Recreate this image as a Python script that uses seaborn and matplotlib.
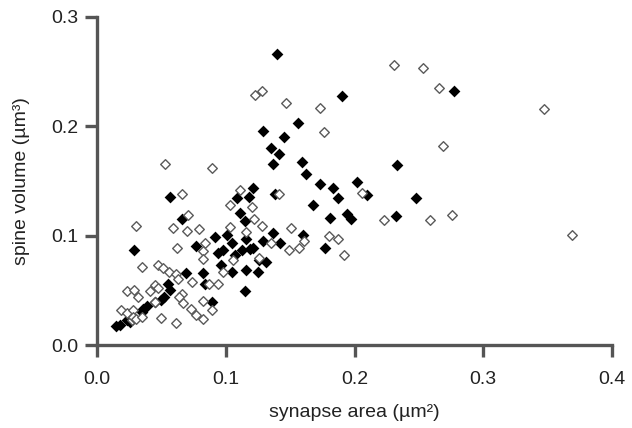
import matplotlib
matplotlib.use("Agg")
import matplotlib.pyplot as plt
import seaborn as sns
import pandas as pd

# filled diamonds
filled_x = [0.140, 0.190, 0.277, 0.156, 0.129, 0.145, 0.135, 0.141, 0.137, 0.159,
            0.162, 0.233, 0.173, 0.183, 0.187, 0.168, 0.181, 0.194, 0.197, 0.202,
            0.210, 0.248, 0.232, 0.177, 0.160, 0.121, 0.138, 0.109, 0.118, 0.111,
            0.115, 0.066, 0.057, 0.029, 0.077, 0.092, 0.101, 0.105, 0.116, 0.129,
            0.137, 0.142, 0.121, 0.094, 0.098, 0.113, 0.119, 0.126, 0.131, 0.096,
            0.107, 0.105, 0.116, 0.125, 0.069, 0.082, 0.084, 0.115, 0.089, 0.055,
            0.057, 0.050, 0.052, 0.045, 0.039, 0.036, 0.035, 0.026, 0.023, 0.018,
            0.015]
filled_y = [0.266, 0.228, 0.232, 0.203, 0.196, 0.190, 0.180, 0.175, 0.166, 0.167,
            0.156, 0.165, 0.147, 0.144, 0.134, 0.128, 0.116, 0.120, 0.115, 0.149,
            0.137, 0.134, 0.118, 0.089, 0.101, 0.144, 0.138, 0.134, 0.135, 0.121,
            0.113, 0.115, 0.135, 0.087, 0.091, 0.099, 0.101, 0.093, 0.097, 0.095,
            0.102, 0.093, 0.089, 0.084, 0.087, 0.087, 0.088, 0.078, 0.076, 0.073,
            0.082, 0.067, 0.069, 0.067, 0.066, 0.066, 0.056, 0.049, 0.039, 0.056,
            0.050, 0.041, 0.044, 0.039, 0.036, 0.033, 0.030, 0.021, 0.023, 0.018,
            0.017]

# open diamonds
open_x = [0.231, 0.253, 0.266, 0.347, 0.369, 0.173, 0.176, 0.269, 0.276, 0.259,
          0.223, 0.206, 0.180, 0.187, 0.161, 0.192, 0.123, 0.128, 0.147, 0.141,
          0.120, 0.122, 0.128, 0.151, 0.135, 0.149, 0.157, 0.089, 0.111, 0.103,
          0.066, 0.071, 0.070, 0.079, 0.084, 0.082, 0.082, 0.103, 0.116, 0.126,
          0.106, 0.098, 0.087, 0.094, 0.074, 0.066, 0.067, 0.073, 0.082, 0.089,
          0.077, 0.082, 0.053, 0.030, 0.059, 0.062, 0.035, 0.047, 0.051, 0.056,
          0.061, 0.063, 0.045, 0.023, 0.029, 0.032, 0.041, 0.047, 0.045, 0.064,
          0.019, 0.023, 0.028, 0.027, 0.028, 0.030, 0.035, 0.050, 0.061]
open_y = [0.256, 0.253, 0.235, 0.216, 0.101, 0.217, 0.195, 0.182, 0.119, 0.114,
          0.114, 0.139, 0.100, 0.097, 0.095, 0.082, 0.229, 0.232, 0.221, 0.138,
          0.126, 0.115, 0.109, 0.107, 0.093, 0.087, 0.089, 0.162, 0.142, 0.128,
          0.138, 0.119, 0.104, 0.106, 0.093, 0.086, 0.079, 0.108, 0.103, 0.080,
          0.078, 0.067, 0.056, 0.056, 0.058, 0.047, 0.038, 0.033, 0.040, 0.032,
          0.027, 0.024, 0.166, 0.109, 0.107, 0.089, 0.071, 0.073, 0.070, 0.067,
          0.065, 0.060, 0.055, 0.049, 0.050, 0.044, 0.049, 0.052, 0.039, 0.044,
          0.032, 0.029, 0.032, 0.023, 0.026, 0.024, 0.026, 0.025, 0.020]

x_ticks = [0.0, 0.1, 0.2, 0.3, 0.4]
y_ticks = [0.0, 0.1, 0.2, 0.3]
x_label = "synapse area (µm²)"
y_label = "spine volume (µm³)"

sns.set_theme(style="ticks")
plt.rcParams["font.family"] = ["Liberation Sans", "DejaVu Sans"]

axis_col = "#555555"
text_col = "#222222"

fig = plt.figure(figsize=(6.32, 4.28), dpi=100)
ax = fig.add_axes([97 / 632, 1 - 345 / 428, (612 - 97) / 632, (345 - 17) / 428])

df_f = pd.DataFrame({"x": filled_x, "y": filled_y})
df_o = pd.DataFrame({"x": open_x, "y": open_y})

sns.scatterplot(data=df_f, x="x", y="y", marker="D", s=36, color="black",
                edgecolor="black", linewidth=0, ax=ax, zorder=3)
sns.scatterplot(data=df_o, x="x", y="y", marker="D", s=24, facecolor="white",
                edgecolor="#5a5a5a", linewidth=1.0, ax=ax, zorder=4)

ax.set_xlim(0, 0.4)
ax.set_ylim(0, 0.3)
ax.set_xticks(x_ticks)
ax.set_yticks(y_ticks)
ax.set_xticklabels([f"{t:.1f}" for t in x_ticks])
ax.set_yticklabels([f"{t:.1f}" for t in y_ticks])
ax.set_xlabel(x_label, fontsize=14, color=text_col, labelpad=12)
ax.set_ylabel(y_label, fontsize=14, color=text_col, labelpad=15)

for side in ["top", "right"]:
    ax.spines[side].set_visible(False)
for side in ["left", "bottom"]:
    ax.spines[side].set_color(axis_col)
    ax.spines[side].set_linewidth(2.4)
ax.tick_params(axis="both", direction="out", length=8.5, width=2.4, color=axis_col,
               labelsize=14, labelcolor=text_col)
ax.tick_params(axis="x", pad=10)
ax.tick_params(axis="y", pad=5)
for coll in ax.collections:
    coll.set_clip_on(False)

fig.savefig("out.png", dpi=100)
